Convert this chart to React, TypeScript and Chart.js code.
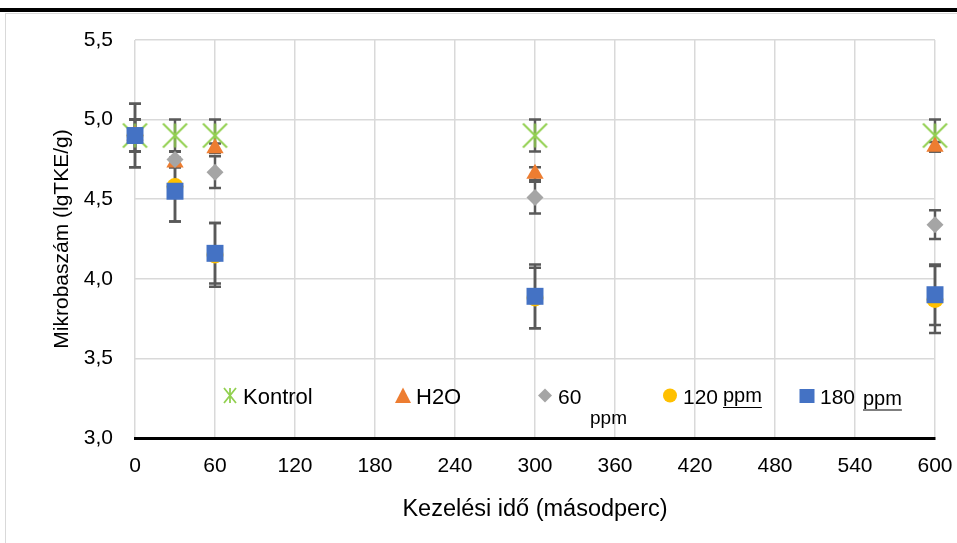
import React, { useEffect, useRef } from 'react';
import { Chart, registerables } from 'chart.js';
Chart.register(...registerables);

const times = [0, 30, 60, 300, 600];
const seriesNames = ['Kontrol', 'H2O', '60 ppm', '120 ppm', '180 ppm'];
const kontrol = [4.9, 4.9, 4.9, 4.9, 4.9];
const kontrolErr = [0.1, 0.1, 0.1, 0.1, 0.1];
const h2o = [4.9, 4.73, 4.82, 4.66, 4.83];
const h2oErr = [0.1, 0.03, 0.03, 0.04, 0.03];
const ppm60 = [4.9, 4.75, 4.67, 4.51, 4.34];
const ppm60Err = [0.1, 0.05, 0.1, 0.1, 0.09];
const ppm120 = [4.9, 4.58, 4.15, 3.88, 3.87];
const ppm120Err = [0.2, 0.22, 0.2, 0.19, 0.21];
const ppm180 = [4.9, 4.55, 4.16, 3.89, 3.9];
const ppm180Err = [0.2, 0.19, 0.19, 0.2, 0.19];
const xTickValues = [0, 60, 120, 180, 240, 300, 360, 420, 480, 540, 600];
const yTickValues = [3.0, 3.5, 4.0, 4.5, 5.0, 5.5];
const xTitle = 'Kezelési idő (másodperc)';
const yTitle = 'Mikrobaszám (lgTKE/g)';

const FONT = "'Liberation Sans', Arial, sans-serif";
const colors = ['#92D050', '#ED7D31', '#A5A5A5', '#FFC000', '#4472C4'];

function starCanvas(size: number, color: string, lw: number) {
  const c = document.createElement('canvas');
  c.width = size;
  c.height = size;
  const g = c.getContext('2d')!;
  g.strokeStyle = color;
  g.lineWidth = lw;
  const p = lw / 2 + 0.5;
  g.beginPath();
  g.moveTo(p, p); g.lineTo(size - p, size - p);
  g.moveTo(size - p, p); g.lineTo(p, size - p);
  g.moveTo(size / 2, p); g.lineTo(size / 2, size - p);
  g.stroke();
  return c;
}

export default function App() {
  const ref = useRef<HTMLCanvasElement>(null);
  useEffect(() => {
    const values = [kontrol, h2o, ppm60, ppm120, ppm180];
    const errs = [kontrolErr, h2oErr, ppm60Err, ppm120Err, ppm180Err];
    const styles: any[] = [starCanvas(27, colors[0], 2), 'triangle', 'rectRot', 'circle', 'rect'];
    const radii = [13, 10, 8.5, 8.5, 12];

    const errorBars = {
      id: 'errorBars',
      beforeDatasetsDraw(chart: any) {
        const ctx = chart.ctx;
        const xs = chart.scales.x;
        const ys = chart.scales.y;
        ctx.save();
        ctx.strokeStyle = '#595959';
        ctx.lineWidth = 2.5;
        values.forEach((vals, si) => {
          vals.forEach((v, i) => {
            const e = errs[si][i];
            const x = xs.getPixelForValue(times[i]);
            const y1 = ys.getPixelForValue(v + e);
            const y2 = ys.getPixelForValue(v - e);
            ctx.beginPath();
            ctx.moveTo(x, y1); ctx.lineTo(x, y2);
            ctx.moveTo(x - 6, y1); ctx.lineTo(x + 6, y1);
            ctx.moveTo(x - 6, y2); ctx.lineTo(x + 6, y2);
            ctx.stroke();
          });
        });
        ctx.restore();
      },
    };

    const legendPlugin = {
      id: 'customLegend',
      afterDatasetsDraw(chart: any) {
        const ctx = chart.ctx;
        const y = chart.chartArea.bottom - 42.5;
        const markerX = [230, 403, 545, 670, 807];
        const textX = [243, 416, 558, 683, 820];
        ctx.save();
        const lw = 1.8;
        // star
        ctx.strokeStyle = colors[0];
        ctx.lineWidth = lw;
        ctx.beginPath();
        ctx.moveTo(markerX[0] - 6, y - 7.5); ctx.lineTo(markerX[0] + 6, y + 7.5);
        ctx.moveTo(markerX[0] + 6, y - 7.5); ctx.lineTo(markerX[0] - 6, y + 7.5);
        ctx.moveTo(markerX[0], y - 7.5); ctx.lineTo(markerX[0], y + 7.5);
        ctx.stroke();
        // triangle
        ctx.fillStyle = colors[1];
        ctx.beginPath();
        ctx.moveTo(markerX[1], y - 8); ctx.lineTo(markerX[1] + 8, y + 7.5); ctx.lineTo(markerX[1] - 8, y + 7.5);
        ctx.closePath(); ctx.fill();
        // diamond
        ctx.fillStyle = colors[2];
        ctx.beginPath();
        ctx.moveTo(markerX[2], y - 7); ctx.lineTo(markerX[2] + 7, y); ctx.lineTo(markerX[2], y + 7); ctx.lineTo(markerX[2] - 7, y);
        ctx.closePath(); ctx.fill();
        // circle
        ctx.fillStyle = colors[3];
        ctx.beginPath();
        ctx.arc(markerX[3], y, 7, 0, Math.PI * 2);
        ctx.fill();
        // square
        ctx.fillStyle = colors[4];
        ctx.fillRect(markerX[4] - 7.5, y - 6.5, 15, 14);

        ctx.fillStyle = '#000';
        ctx.textBaseline = 'alphabetic';
        ctx.textAlign = 'left';
        ctx.font = `22px ${FONT}`;
        const parts = seriesNames.map((n) => n.split(' '));
        const base = y + 8;
        ctx.fillText(parts[0][0], textX[0], base);
        ctx.fillText(parts[1][0], textX[1], base);
        ctx.font = `21px ${FONT}`;
        ctx.fillText(parts[2][0], textX[2], base);
        ctx.fillText(parts[3][0], textX[3], base);
        ctx.fillText(parts[4][0], textX[4], base);
        ctx.font = `19px ${FONT}`;
        ctx.fillText(parts[2][1], 590, y + 28);
        ctx.font = `20px ${FONT}`;
        ctx.fillText(parts[3][1], 723, y + 6.5);
        ctx.fillText(parts[4][1], 863, y + 9);
        ctx.strokeStyle = '#000';
        ctx.lineWidth = 1.2;
        ctx.beginPath();
        const w3 = ctx.measureText(parts[3][1]).width;
        const w4 = ctx.measureText(parts[4][1]).width;
        ctx.moveTo(723, y + 12); ctx.lineTo(723 + w3, y + 12);
        ctx.moveTo(863, y + 14.5); ctx.lineTo(863 + w4, y + 14.5);
        ctx.stroke();
        ctx.restore();
      },
    };

    const chart = new Chart(ref.current!, {
      type: 'scatter',
      data: {
        datasets: values.map((vals, si) => ({
          label: seriesNames[si],
          data: vals.map((v, i) => ({ x: times[i], y: v })),
          pointStyle: styles[si],
          pointRadius: radii[si],
          pointHoverRadius: radii[si],
          backgroundColor: colors[si],
          borderColor: colors[si],
          borderWidth: si === 0 ? 2 : 0,
          showLine: false,
          clip: false as any,
          order: 5 - si,
        })),
      },
      options: {
        responsive: false,
        animation: false,
        events: [],
        layout: { padding: { left: 0, top: 40, right: 22, bottom: 0 } },
        plugins: { legend: { display: false }, tooltip: { enabled: false } },
        scales: {
          x: {
            type: 'linear',
            min: 0,
            max: 600,
            afterBuildTicks: (s: any) => { s.ticks = xTickValues.map((v) => ({ value: v })); },
            afterFit: (s: any) => { s.height = 105; s.paddingLeft = 0; s.paddingRight = 0; },
            ticks: { font: { family: FONT, size: 21 }, color: '#000', padding: 16, maxRotation: 0, autoSkip: false },
            grid: { color: '#d9d9d9', lineWidth: 1.5, drawTicks: false },
            border: { display: true, color: '#000', width: 3 },
            title: { display: true, text: xTitle, font: { family: FONT, size: 23.5 }, color: '#000', padding: { top: 0, bottom: 19 } },
          },
          y: {
            type: 'linear',
            min: 3,
            max: 5.5,
            afterBuildTicks: (s: any) => { s.ticks = yTickValues.map((v) => ({ value: v })); },
            afterFit: (s: any) => { s.width = 135; s.paddingTop = 0; s.paddingBottom = 0; },
            ticks: {
              font: { family: FONT, size: 21 },
              color: '#000',
              padding: 22,
              callback: (v: any) => Number(v).toFixed(1).replace('.', ','),
            },
            grid: { color: '#d9d9d9', lineWidth: 1.5, drawTicks: false },
            border: { display: false },
            title: { display: true, text: yTitle, font: { family: FONT, size: 21 }, color: '#000', padding: { top: 50, bottom: 0 } },
          },
        },
      },
      plugins: [errorBars, legendPlugin],
    });
    return () => chart.destroy();
  }, []);

  return (
    <div style={{ position: 'absolute', left: 0, top: 0, width: 957, height: 543, background: '#fff', overflow: 'hidden' }}>
      <div style={{ position: 'absolute', left: 0, top: 8, width: 957, height: 4, background: '#000' }} />
      <div style={{ position: 'absolute', left: 5, top: 13, width: 960, height: 540, borderLeft: '1px solid #d9d9d9', borderTop: '1px solid #d9d9d9' }} />
      <canvas ref={ref} width={957} height={543} style={{ position: 'absolute', left: 0, top: 0, width: 957, height: 543 }} />
    </div>
  );
}
